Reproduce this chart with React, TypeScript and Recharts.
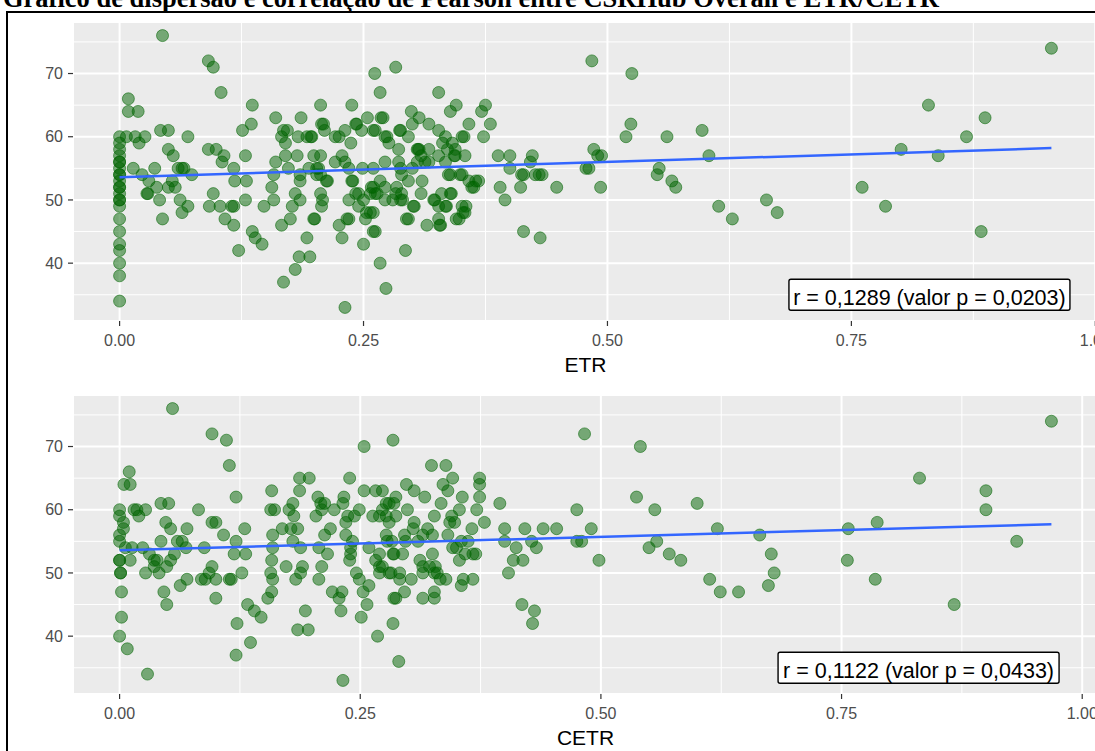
import { ScatterChart, Scatter, XAxis, YAxis, CartesianGrid } from "recharts";

const title =
  "Gráfico de dispersão e correlação de Pearson entre CSRHub Overall e ETR/CETR";

const xTicks = [0, 0.25, 0.5, 0.75, 1];
const xMinor = [0.125, 0.375, 0.625, 0.875];
const yTicks = [40, 50, 60, 70];
const yMinor = [35, 45, 55, 65, 75];

// ETR (x) vs CSRHub Overall (y)
const etrPairs: [number, number][] = [
  [0, 60], [0, 59], [0, 58], [0, 57], [0, 56], [0, 56], [0, 55], [0, 54], [0, 54], [0, 53],
  [0, 52], [0, 52], [0, 51], [0, 50], [0, 50], [0, 49], [0, 47], [0, 45], [0, 43], [0, 42],
  [0, 40], [0, 38], [0, 34],
  [0.044, 76], [0.009, 66], [0.009, 64], [0.019, 64], [0.007, 60], [0.016, 60], [0.026, 60],
  [0.02, 59], [0.014, 55], [0.023, 54], [0.03, 53], [0.028, 51], [0.038, 52], [0.041, 50],
  [0.042, 61], [0.05, 61], [0.036, 55], [0.044, 47], [0.05, 58], [0.055, 57], [0.05, 52],
  [0.054, 53], [0.057, 52], [0.06, 55], [0.064, 55], [0.066, 55], [0.062, 50], [0.064, 48],
  [0.07, 49], [0.07, 60], [0.074, 54], [0.029, 51],
  [0.091, 72], [0.096, 71], [0.104, 67], [0.091, 58], [0.099, 58], [0.107, 57], [0.105, 56],
  [0.117, 55], [0.118, 53], [0.13, 53], [0.129, 57], [0.126, 61], [0.135, 62], [0.136, 65],
  [0.096, 51], [0.092, 49], [0.103, 49], [0.115, 49], [0.117, 49], [0.108, 47], [0.117, 46],
  [0.129, 50], [0.122, 42], [0.136, 45], [0.139, 44], [0.146, 43], [0.148, 49],
  [0.16, 63], [0.168, 61], [0.166, 60], [0.17, 59], [0.17, 57], [0.16, 56], [0.158, 54],
  [0.156, 52], [0.158, 50], [0.166, 46], [0.175, 47], [0.168, 37], [0.18, 39], [0.184, 41],
  [0.195, 41], [0.177, 49], [0.18, 51], [0.185, 50], [0.182, 57], [0.185, 54], [0.186, 63],
  [0.183, 60], [0.192, 60], [0.197, 60], [0.199, 57], [0.194, 55], [0.192, 44], [0.2, 47],
  [0.206, 65], [0.207, 62], [0.209, 62], [0.21, 61], [0.206, 57], [0.204, 55], [0.206, 54],
  [0.213, 53], [0.206, 51], [0.208, 50], [0.207, 49], [0.221, 60], [0.225, 60], [0.231, 61],
  [0.238, 65], [0.242, 62], [0.237, 59], [0.228, 57], [0.231, 56], [0.235, 55], [0.225, 46],
  [0.233, 47], [0.228, 44], [0.231, 33], [0.235, 50], [0.238, 53], [0.242, 51],
  [0.172, 61], [0.173, 55], [0.202, 55], [0.196, 60], [0.221, 56], [0.185, 53], [0.202, 54],
  [0.212, 53], [0.199, 47],
  [0.2615, 70], [0.283, 71], [0.267, 67], [0.327, 67], [0.254, 63], [0.268, 63], [0.27, 63],
  [0.299, 64], [0.307, 63], [0.345, 65], [0.339, 64], [0.375, 65], [0.371, 64], [0.38, 62],
  [0.373, 60], [0.358, 62], [0.317, 62], [0.327, 61], [0.334, 60], [0.243, 62], [0.248, 61],
  [0.26, 61], [0.272, 60], [0.276, 59], [0.288, 61], [0.296, 60], [0.305, 58], [0.307, 58],
  [0.317, 58], [0.331, 59], [0.344, 58], [0.353, 60], [0.354, 57], [0.343, 57], [0.334, 56],
  [0.327, 57], [0.272, 56], [0.288, 55], [0.3, 55], [0.313, 56], [0.337, 54], [0.349, 54],
  [0.358, 53], [0.361, 52], [0.365, 53], [0.368, 53], [0.388, 57], [0.4, 57], [0.423, 57],
  [0.421, 56], [0.4, 55], [0.412, 54], [0.414, 54], [0.433, 54], [0.43, 54], [0.426, 54],
  [0.39, 52], [0.395, 50], [0.411, 52], [0.448, 52], [0.414, 45], [0.431, 44],
  [0.239, 53], [0.245, 51], [0.25, 50], [0.253, 48], [0.257, 51], [0.26, 52], [0.264, 51],
  [0.252, 47], [0.26, 48], [0.235, 47], [0.26, 45], [0.25, 43], [0.267, 40], [0.273, 36],
  [0.293, 42], [0.272, 50], [0.28, 50], [0.288, 50], [0.294, 47], [0.301, 49], [0.309, 51],
  [0.315, 46], [0.323, 50], [0.327, 49], [0.328, 46], [0.327, 47], [0.335, 49], [0.34, 51],
  [0.348, 47], [0.355, 49], [0.354, 48], [0.296, 53], [0.284, 52], [0.289, 51],
  [0.262, 61], [0.274, 60], [0.286, 58], [0.287, 61], [0.3, 62], [0.306, 58], [0.309, 57],
  [0.341, 59], [0.336, 58], [0.351, 60], [0.344, 57], [0.317, 56], [0.305, 56], [0.286, 56],
  [0.26, 55], [0.249, 55], [0.267, 53], [0.289, 54], [0.31, 53], [0.339, 54], [0.351, 54],
  [0.363, 52], [0.258, 52], [0.272, 52], [0.262, 51], [0.283, 51], [0.29, 50], [0.302, 49],
  [0.322, 50], [0.334, 49], [0.339, 51], [0.33, 51], [0.351, 49], [0.352, 48], [0.345, 47],
  [0.329, 46], [0.296, 47], [0.262, 45], [0.257, 48], [0.245, 49],
  [0.484, 72], [0.525, 70], [0.524, 62], [0.519, 60], [0.561, 60], [0.486, 58], [0.49, 57],
  [0.494, 57], [0.478, 55], [0.481, 55], [0.493, 52], [0.551, 54], [0.553, 55], [0.566, 53],
  [0.57, 52], [0.597, 61],
  [0.604, 57], [0.614, 49], [0.628, 47], [0.663, 50], [0.674, 48], [0.761, 52], [0.785, 49],
  [0.801, 58], [0.829, 65], [0.839, 57], [0.868, 60], [0.887, 63], [0.883, 45], [0.955, 74],
];

// CETR (x) vs CSRHub Overall (y)
const cetrPairs: [number, number][] = [
  [0, 60], [0, 59], [0.004, 58], [0, 56], [0.004, 57], [0, 55], [0.006, 54], [0, 52], [0, 52],
  [0.001, 50], [0.001, 50], [0.002, 47], [0.002, 43], [0, 40], [0.008, 38],
  [0.01, 66], [0.0045, 64], [0.011, 64], [0.015, 60], [0.018, 60], [0.027, 60], [0.02, 59],
  [0.011, 52], [0.013, 54], [0.024, 54], [0.029, 34], [0.027, 50], [0.031, 53], [0.036, 52],
  [0.039, 52], [0.043, 55], [0.041, 50], [0.036, 51], [0.043, 61], [0.051, 61], [0.048, 58],
  [0.053, 57], [0.055, 76], [0.046, 47], [0.049, 45], [0.049, 51], [0.053, 52], [0.057, 53],
  [0.06, 55], [0.065, 55], [0.069, 54], [0.07, 57], [0.063, 48], [0.07, 49],
  [0.082, 60], [0.088, 54], [0.085, 49], [0.089, 49], [0.096, 51], [0.093, 50], [0.1, 49],
  [0.1, 46], [0.096, 58], [0.1, 58], [0.096, 72], [0.111, 71], [0.114, 67], [0.108, 56],
  [0.114, 49], [0.116, 49], [0.121, 62], [0.121, 55], [0.119, 53], [0.13, 57], [0.131, 53],
  [0.127, 50], [0.122, 42], [0.121, 37], [0.133, 45], [0.14, 44], [0.147, 43], [0.136, 39],
  [0.154, 46], [0.158, 47], [0.158, 63], [0.157, 60], [0.161, 60], [0.159, 56], [0.159, 54],
  [0.158, 52], [0.157, 50], [0.159, 49], [0.169, 57], [0.173, 51], [0.176, 60], [0.18, 61],
  [0.178, 57], [0.18, 55], [0.181, 59], [0.185, 57], [0.187, 65], [0.197, 65], [0.187, 63],
  [0.183, 49], [0.188, 50], [0.19, 51], [0.188, 54], [0.185, 41], [0.196, 41], [0.193, 44],
  [0.204, 59], [0.206, 62], [0.209, 61], [0.213, 61], [0.21, 60], [0.207, 54], [0.21, 51],
  [0.216, 53], [0.207, 49], [0.213, 56], [0.219, 57], [0.223, 60], [0.232, 61], [0.233, 62],
  [0.235, 58], [0.237, 59], [0.239, 65], [0.249, 60], [0.244, 59], [0.239, 52], [0.24, 53],
  [0.221, 47], [0.228, 46], [0.231, 47], [0.23, 44], [0.232, 33], [0.251, 43], [0.253, 47],
  [0.246, 50], [0.249, 49], [0.259, 48], [0.257, 45], [0.254, 70], [0.266, 63], [0.254, 63],
  [0.268, 40], [0.284, 71], [0.284, 42], [0.285, 46], [0.29, 36], [0.263, 59], [0.27, 59],
  [0.273, 60], [0.28, 61], [0.287, 62], [0.266, 52], [0.273, 51], [0.278, 55], [0.284, 53],
  [0.259, 54], [0.27, 50], [0.282, 50], [0.242, 55], [0.235, 56], [0.24, 54],
  [0.324, 67], [0.339, 67], [0.346, 65], [0.374, 65], [0.374, 64], [0.374, 62], [0.298, 64],
  [0.306, 63], [0.336, 64], [0.341, 63], [0.317, 62], [0.273, 63], [0.277, 61], [0.285, 61],
  [0.277, 59], [0.299, 60], [0.287, 59], [0.327, 59], [0.334, 61], [0.345, 59], [0.353, 60],
  [0.356, 62], [0.371, 60], [0.379, 58], [0.366, 57], [0.395, 61], [0.28, 58], [0.306, 58],
  [0.305, 57], [0.32, 57], [0.343, 58], [0.348, 58], [0.325, 56], [0.315, 56], [0.296, 56],
  [0.277, 56], [0.283, 55], [0.297, 55], [0.31, 55], [0.341, 56], [0.355, 55], [0.362, 55],
  [0.35, 54], [0.346, 54], [0.27, 53], [0.285, 53], [0.294, 53], [0.353, 52], [0.367, 53],
  [0.37, 53], [0.359, 53], [0.325, 53], [0.312, 52], [0.315, 51], [0.322, 51], [0.327, 50],
  [0.328, 51], [0.33, 50], [0.291, 50], [0.28, 50], [0.27, 51], [0.303, 49], [0.333, 49],
  [0.339, 49], [0.357, 49], [0.367, 49], [0.355, 48], [0.291, 49], [0.315, 50], [0.296, 47],
  [0.327, 47], [0.287, 46], [0.315, 46], [0.327, 46],
  [0.4, 57], [0.421, 57], [0.44, 57], [0.454, 57], [0.4, 55], [0.412, 54], [0.428, 55],
  [0.433, 54], [0.409, 52], [0.419, 52], [0.404, 50], [0.418, 45], [0.431, 44], [0.429, 42],
  [0.475, 60], [0.483, 72], [0.49, 57], [0.475, 55], [0.48, 55], [0.498, 52], [0.537, 62],
  [0.541, 70], [0.556, 60], [0.6, 61], [0.55, 54], [0.558, 55], [0.571, 53], [0.583, 52],
  [0.613, 49], [0.621, 57], [0.624, 47], [0.643, 47],
  [0.665, 56], [0.677, 53], [0.68, 50], [0.674, 48], [0.757, 57], [0.756, 52], [0.787, 58],
  [0.785, 49], [0.831, 65], [0.867, 45], [0.9, 63], [0.9, 60], [0.932, 55], [0.968, 74],
];

// linear fit end points (lm line)
const etrFit: [number, number][] = [[0, 53.6], [0.955, 58.2]];
const cetrFit: [number, number][] = [[0, 53.6], [0.968, 57.7]];

const etrNote = "r = 0,1289 (valor p = 0,0203)";
const cetrNote = "r = 0,1122 (valor p = 0,0433)";
const notePos: [number, number] = [0.83, 35];

const font = "'Liberation Sans', Arial, sans-serif";

function padded(values: number[]): [number, number] {
  const lo = Math.min(...values);
  const hi = Math.max(...values);
  const pad = (hi - lo) * 0.05;
  return [lo - pad, hi + pad];
}

const Dot = (p: any) => (
  <circle
    cx={p.cx}
    cy={p.cy}
    r={6}
    fill="#006400"
    fillOpacity={0.5}
    stroke="#006400"
    strokeOpacity={0.55}
    strokeWidth={1}
  />
);

const NoteBox = (p: any) => (
  <g>
    <rect
      x={p.cx - 140.5}
      y={p.cy - 15.5}
      width={281}
      height={31}
      rx={2}
      fill="#FFFFFF"
      stroke="#000000"
      strokeWidth={1.4}
    />
    <text x={p.cx} y={p.cy + 10} textAnchor="middle" fontSize={21.5} fill="#000000">
      {p.note}
    </text>
  </g>
);

function Panel({
  top,
  pairs,
  fit,
  axisTitle,
  note,
}: {
  top: number;
  pairs: [number, number][];
  fit: [number, number][];
  axisTitle: string;
  note: string;
}) {
  const data = pairs.map(([x, y]) => ({ x, y }));
  const fitData = fit.map(([x, y]) => ({ x, y }));
  const noteData = [{ x: notePos[0], y: notePos[1] }];
  const xDomain = padded(pairs.map((d) => d[0]));
  const yDomain = padded(pairs.map((d) => d[1]));

  return (
    <div style={{ position: "absolute", left: 0, top }}>
      <ScatterChart
        width={1110}
        height={380}
        margin={{ top: 22, right: 12, bottom: 8, left: 13 }}
      >
        <CartesianGrid
          fill="#EBEBEB"
          stroke="#FFFFFF"
          strokeWidth={1}
          xAxisId="minor"
          yAxisId="minor"
        />
        <CartesianGrid stroke="#FFFFFF" strokeWidth={2} />
        <XAxis
          xAxisId="minor"
          type="number"
          dataKey="x"
          domain={xDomain}
          allowDataOverflow
          ticks={xMinor}
          hide
        />
        <YAxis
          yAxisId="minor"
          type="number"
          dataKey="y"
          domain={yDomain}
          allowDataOverflow
          ticks={yMinor}
          hide
        />
        <XAxis
          type="number"
          dataKey="x"
          domain={xDomain}
          allowDataOverflow
          ticks={xTicks}
          tickFormatter={(v: number) => v.toFixed(2)}
          axisLine={false}
          tickSize={5}
          tickMargin={9}
          tickLine={{ stroke: "#333333", strokeWidth: 1.2 }}
          tick={{ fill: "#4D4D4D", fontSize: 16 }}
          height={51}
          label={{
            value: axisTitle,
            position: "insideBottom",
            offset: 0,
            fill: "#000000",
            fontSize: 21,
          }}
        />
        <YAxis
          type="number"
          dataKey="y"
          domain={yDomain}
          allowDataOverflow
          ticks={yTicks}
          axisLine={false}
          tickSize={5}
          tickMargin={5}
          tickLine={{ stroke: "#333333", strokeWidth: 1.2 }}
          tick={{ fill: "#4D4D4D", fontSize: 16 }}
          width={60}
        />
        <Scatter data={data} shape={Dot} isAnimationActive={false} />
        <Scatter
          data={fitData}
          line={{ stroke: "#3366FF", strokeWidth: 2.5 }}
          shape={() => <g />}
          isAnimationActive={false}
        />
        <Scatter
          data={noteData}
          shape={(p: any) => <NoteBox {...p} note={note} />}
          isAnimationActive={false}
        />
      </ScatterChart>
    </div>
  );
}

export default function App() {
  return (
    <div
      style={{
        position: "absolute",
        left: 0,
        top: 0,
        width: 1095,
        height: 751,
        overflow: "hidden",
        background: "#FFFFFF",
        fontFamily: font,
      }}
    >
      <div
        style={{
          position: "absolute",
          left: 3,
          top: -15.5,
          fontFamily: "'Liberation Serif', 'Times New Roman', serif",
          fontWeight: "bold",
          fontSize: 26.5,
          lineHeight: "26.5px",
          whiteSpace: "nowrap",
          color: "#000000",
        }}
      >
        {title}
      </div>
      <div
        style={{
          position: "absolute",
          left: 6,
          top: 11,
          width: 1200,
          height: 900,
          border: "2px solid #000000",
        }}
      />
      <Panel top={0} pairs={etrPairs} fit={etrFit} axisTitle="ETR" note={etrNote} />
      <Panel top={373} pairs={cetrPairs} fit={cetrFit} axisTitle="CETR" note={cetrNote} />
    </div>
  );
}
